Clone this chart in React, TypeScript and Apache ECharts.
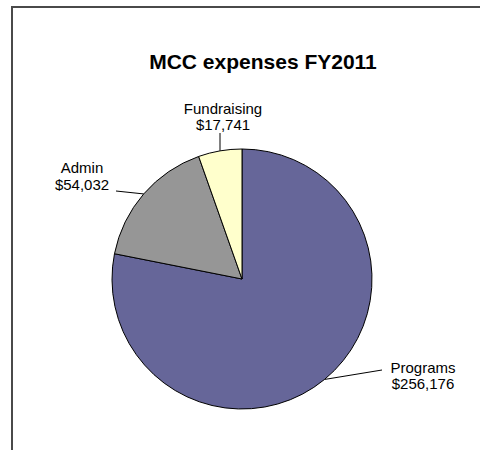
import React, { useEffect, useRef } from "react";
import * as echarts from "echarts";

const categories = ["Programs", "Admin", "Fundraising"];
const values = [256176, 54032, 17741];
const colors = ["#666699", "#969696", "#FFFFCC"];
const titleText = "MCC expenses FY2011";

const fmt = (v: number) => "$" + v.toLocaleString("en-US");

export default function App() {
  const ref = useRef<HTMLDivElement>(null);
  useEffect(() => {
    if (!ref.current) return;
    const chart = echarts.init(ref.current, undefined, { renderer: "svg" });
    // label centre, line height and leader-line end point (layout only)
    const labelPos: Record<string, { at: [number, number]; lh: number; end: [number | null, number] }> = {
      Programs: { at: [423, 375], lh: 16, end: [382, 370] },
      Admin: { at: [82, 176], lh: 17, end: [116, 191] },
      Fundraising: { at: [223, 116], lh: 16, end: [null, 133] },
    };
    chart.setOption({
      animation: false,
      backgroundColor: "#ffffff",
      title: {
        text: titleText,
        left: 258,
        top: 46,
        textAlign: "center",
        textStyle: {
          fontFamily: "Liberation Sans, Arial, sans-serif",
          fontSize: 21,
          fontWeight: "bold",
          color: "#000000",
        },
      },
      graphic: [
        {
          type: "rect",
          shape: { x: 12, y: 7, width: 520, height: 520 },
          style: { fill: "none", stroke: "#4a4a4a", lineWidth: 2 },
          silent: true,
        },
      ],
      series: [
        {
          type: "pie",
          center: [242, 279],
          radius: 130,
          startAngle: 90,
          clockwise: true,
          data: categories.map((c, i) => ({
            name: c,
            value: values[i],
            itemStyle: { color: colors[i] },
            label: { lineHeight: labelPos[c].lh },
          })),
          itemStyle: { borderColor: "#000000", borderWidth: 1 },
          label: {
            show: true,
            position: "outside",
            formatter: (p: any) => p.name + "\n" + fmt(p.value),
            fontFamily: "Liberation Sans, Arial, sans-serif",
            fontSize: 15,
            lineHeight: 16,
            color: "#000000",
            align: "center",
          },
          labelLine: {
            show: true,
            length: 15,
            length2: 20,
            lineStyle: { color: "#000000", width: 1 },
          },
          emphasis: { disabled: true },
          labelLayout: (params: any) => {
            const name = categories[params.dataIndex];
            const p = labelPos[name];
            const start = params.labelLinePoints ? params.labelLinePoints[0] : [p.at[0], p.at[1]];
            const endX = p.end[0] == null ? start[0] : p.end[0];
            return {
              x: p.at[0],
              y: p.at[1],
              align: "center",
              verticalAlign: "middle",
              labelLinePoints: [start, [endX, p.end[1]]],
            };
          },
        },
      ],
    });
    return () => chart.dispose();
  }, []);
  return (
    <div
      ref={ref}
      style={{ position: "fixed", left: 0, top: 0, width: 480, height: 450 }}
    />
  );
}
